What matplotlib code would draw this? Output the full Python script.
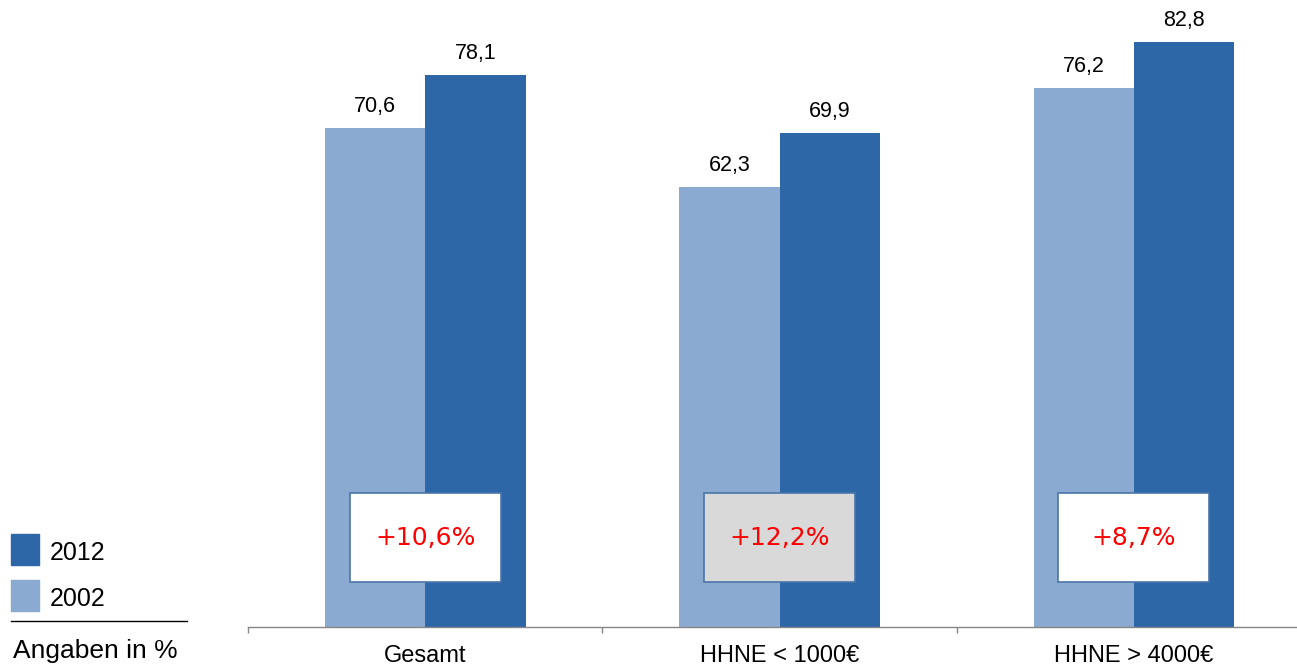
import matplotlib
matplotlib.use("Agg")
from matplotlib import pyplot as plt
from matplotlib.patches import Rectangle
from matplotlib.lines import Line2D

# data
categories = ["Gesamt", "HHNE < 1000€", "HHNE > 4000€"]
values_2002 = [70.6, 62.3, 76.2]
values_2012 = [78.1, 69.9, 82.8]
changes = ["+10,6%", "+12,2%", "+8,7%"]
highlight = [False, True, False]

col_2002 = "#8aaad2"
col_2012 = "#2e67a8"
grey = "#868686"

plt.rcParams["font.family"] = ["Liberation Sans", "DejaVu Sans"]

W, H = 1297, 669
fig = plt.figure(figsize=(W / 100, H / 100), dpi=100)
ax = fig.add_axes([248 / W, 42 / H, 1049 / W, 627 / H])

bw = 0.2835
x = list(range(len(categories)))
b02 = ax.bar([i - bw / 2 for i in x], values_2002, width=bw, color=col_2002, zorder=2)
b12 = ax.bar([i + bw / 2 for i in x], values_2012, width=bw, color=col_2012, zorder=2)

# value labels above bars
for bars, vals in ((b02, values_2002), (b12, values_2012)):
    for rect, v in zip(bars, vals):
        ax.annotate(f"{v:.1f}".replace(".", ","),
                    xy=(rect.get_x() + rect.get_width() / 2, v),
                    xytext=(0, 11.5), textcoords="offset points",
                    ha="center", va="baseline", fontsize=15.5, color="black")

# change boxes
bx_w, bx_h, bx_y = 0.426, 12.6, 6.3
for i, txt, hl in zip(x, changes, highlight):
    ax.add_patch(Rectangle((i - bx_w / 2, bx_y), bx_w, bx_h,
                           facecolor="#d9d9d9" if hl else "white",
                           edgecolor="#4a76a8", linewidth=1.2, zorder=3))
    ax.text(i, bx_y + bx_h / 2, txt, ha="center", va="center",
            fontsize=18, color="#ff0000", family="DejaVu Sans", zorder=4)

ax.set_xlim(-0.5, 2.46)
ax.set_ylim(0, 88.68)

for s in ("top", "right", "left"):
    ax.spines[s].set_visible(False)
ax.spines["bottom"].set_color(grey)
ax.spines["bottom"].set_linewidth(1.0)
ax.set_yticks([])

ax.set_xticks(x)
ax.set_xticklabels(categories, fontsize=17)
ax.tick_params(axis="x", which="major", length=0, pad=13)
ax.set_xticks([-0.5, 0.5, 1.5], minor=True)
ax.tick_params(axis="x", which="minor", length=4.5, width=1.0, color=grey, direction="out")

# legend drawn by hand at the lower left
def fx(px):
    return px / W

def fy(py):
    return 1 - py / H

fig.add_artist(Rectangle((fx(11), fy(565)), fx(28), 31 / H, color=col_2012, transform=fig.transFigure))
fig.add_artist(Rectangle((fx(11), fy(611)), fx(28), 31 / H, color=col_2002, transform=fig.transFigure))
fig.text(fx(50), fy(560), "2012", fontsize=18, va="baseline", ha="left")
fig.text(fx(50), fy(606), "2002", fontsize=18, va="baseline", ha="left")
fig.add_artist(Line2D([fx(11), fx(187)], [fy(621), fy(621)], color="black", linewidth=1.0,
                      transform=fig.transFigure))
fig.text(fx(13), fy(658), "Angaben in %", fontsize=19, va="baseline", ha="left")

fig.savefig("out.png", dpi=100)
